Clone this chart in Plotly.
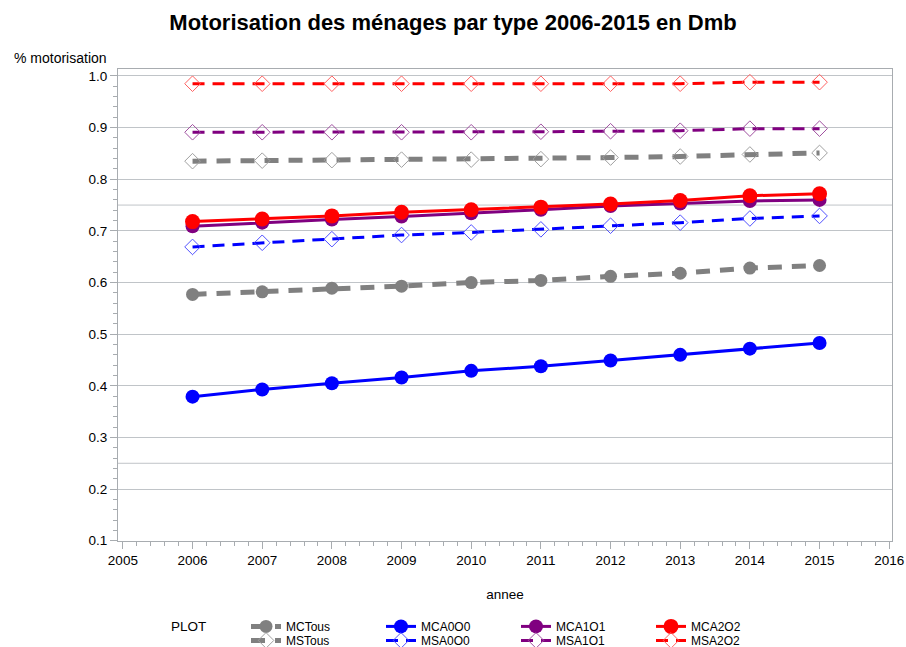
import plotly.graph_objects as go

years = [2006, 2007, 2008, 2009, 2010, 2011, 2012, 2013, 2014, 2015]

MCTous = [0.577, 0.582, 0.589, 0.593, 0.600, 0.604, 0.612, 0.618, 0.628, 0.633]
MSTous = [0.835, 0.836, 0.837, 0.838, 0.838, 0.839, 0.842, 0.844, 0.848, 0.851]
MCA0O0 = [0.379, 0.393, 0.405, 0.416, 0.429, 0.438, 0.449, 0.460, 0.472, 0.483]
MSA0O0 = [0.669, 0.677, 0.684, 0.692, 0.697, 0.703, 0.710, 0.716, 0.724, 0.729]
MCA1O1 = [0.709, 0.716, 0.722, 0.728, 0.734, 0.741, 0.748, 0.753, 0.758, 0.760]
MSA1O1 = [0.891, 0.891, 0.891, 0.891, 0.891, 0.892, 0.893, 0.894, 0.898, 0.898]
MCA2O2 = [0.718, 0.723, 0.729, 0.736, 0.741, 0.746, 0.752, 0.759, 0.768, 0.772]
MSA2O2 = [0.985, 0.985, 0.985, 0.985, 0.985, 0.985, 0.985, 0.985, 0.988, 0.988]

ref_lines = [0.25, 0.75]
y_ticks = [0.1, 0.2, 0.3, 0.4, 0.5, 0.6, 0.7, 0.8, 0.9, 1.0]
x_ticks = list(range(2005, 2017))

GRAY = "#808080"
BLUE = "#0000FF"
PURPLE = "#800080"
RED = "#FF0000"
OUTLINE = {GRAY: "#A0A0A0", BLUE: "#5050FF", PURPLE: "#A050A0", RED: "#FF6060"}
FONT = "Liberation Sans, Arial, sans-serif"

series = [
    # name, values, color, line width, dash, marker symbol, marker size, legend
    ("MCTous", MCTous, GRAY, 5, "14px,10px", "circle", 13, "legend"),
    ("MSTous", MSTous, GRAY, 5, "14px,10px", "diamond-open", 12, "legend2"),
    ("MCA0O0", MCA0O0, BLUE, 3, "solid", "circle", 14, "legend"),
    ("MSA0O0", MSA0O0, BLUE, 3, "12px,8px", "diamond-open", 12, "legend2"),
    ("MCA1O1", MCA1O1, PURPLE, 3, "solid", "circle", 14, "legend"),
    ("MSA1O1", MSA1O1, PURPLE, 3, "12px,8px", "diamond-open", 12, "legend2"),
    ("MCA2O2", MCA2O2, RED, 3, "solid", "circle", 15, "legend"),
    ("MSA2O2", MSA2O2, RED, 3, "12px,8px", "diamond-open", 12, "legend2"),
]

fig = go.Figure()
for name, vals, color, lw, dash, sym, msize, leg in series:
    open_m = sym.endswith("open")
    fig.add_trace(go.Scatter(
        x=years, y=vals, name=name, mode="lines+markers",
        line=dict(color=color, width=lw, dash=dash),
        marker=dict(symbol=sym, size=msize,
                    color=OUTLINE[color] if open_m else color,
                    line=dict(width=1, color=OUTLINE[color]) if open_m else dict(width=0)),
        legend=leg,
    ))

for v in ref_lines:
    fig.add_hline(y=v, line=dict(color="#C0C4C8", width=1), layer="below")

PW = 906 - 118 - 14
PH = 647 - 69 - 105.5
LEG_X = (246 - 118) / PW

fig.update_layout(
    width=906, height=647,
    margin=dict(l=118, r=14, t=69, b=105.5, autoexpand=False),
    paper_bgcolor="white", plot_bgcolor="white",
    font=dict(family=FONT, size=13, color="#000000"),
    title=dict(text="<b>Motorisation des ménages par type 2006-2015 en Dmb</b>",
               x=0.5, xanchor="center", y=1 - 22 / 647, yanchor="middle",
               font=dict(family=FONT, size=22, color="#000000")),
    showlegend=True,
    legend=dict(orientation="h", x=LEG_X, xanchor="left",
                y=-(627 - 541.5) / PH, yanchor="middle",
                font=dict(size=12), entrywidth=90, bgcolor="rgba(0,0,0,0)"),
    legend2=dict(orientation="h", x=LEG_X, xanchor="left",
                 y=-(641 - 541.5) / PH, yanchor="middle",
                 font=dict(size=12), entrywidth=90, bgcolor="rgba(0,0,0,0)"),
    annotations=[
        dict(text="% motorisation", xref="paper", yref="paper", x=(12 - 118) / PW,
             xanchor="left", y=(541.5 - 58) / PH, yanchor="middle", showarrow=False,
             font=dict(size=14)),
        dict(text="PLOT", xref="paper", yref="paper", x=(169 - 118) / PW,
             xanchor="left", y=-(627 - 541.5) / PH, yanchor="middle", showarrow=False,
             font=dict(size=13.5)),
    ],
)

fig.update_xaxes(
    range=[2004.93, 2016.04], tickmode="array", tickvals=x_ticks,
    ticktext=[str(t) for t in x_ticks],
    showgrid=False, zeroline=False,
    showline=True, linecolor="#A8ACB0", linewidth=1, mirror=True,
    ticks="outside", ticklen=7, tickcolor="#A8ACB0",
    minor=dict(dtick=0.2, ticks="outside", ticklen=4, tickcolor="#A8ACB0", showgrid=False),
    tickfont=dict(size=13.5),
    title=dict(text="annee", font=dict(size=13.5), standoff=22),
)
fig.update_yaxes(
    range=[0.0995, 1.0135], tickmode="array", tickvals=y_ticks,
    ticktext=[f"{t:.1f}" for t in y_ticks],
    showgrid=True, gridcolor="#C0C4C8", gridwidth=1, zeroline=False,
    showline=True, linecolor="#A8ACB0", linewidth=1, mirror=True,
    ticks="outside", ticklen=7, tickcolor="#A8ACB0",
    minor=dict(dtick=0.02, tick0=0, ticks="outside", ticklen=4, tickcolor="#A8ACB0", showgrid=False),
    tickfont=dict(size=13.5),
)

fig.write_html("out.html", config={"displayModeBar": False},
               post_script="document.body.style.margin='0';document.body.style.overflow='hidden';")
